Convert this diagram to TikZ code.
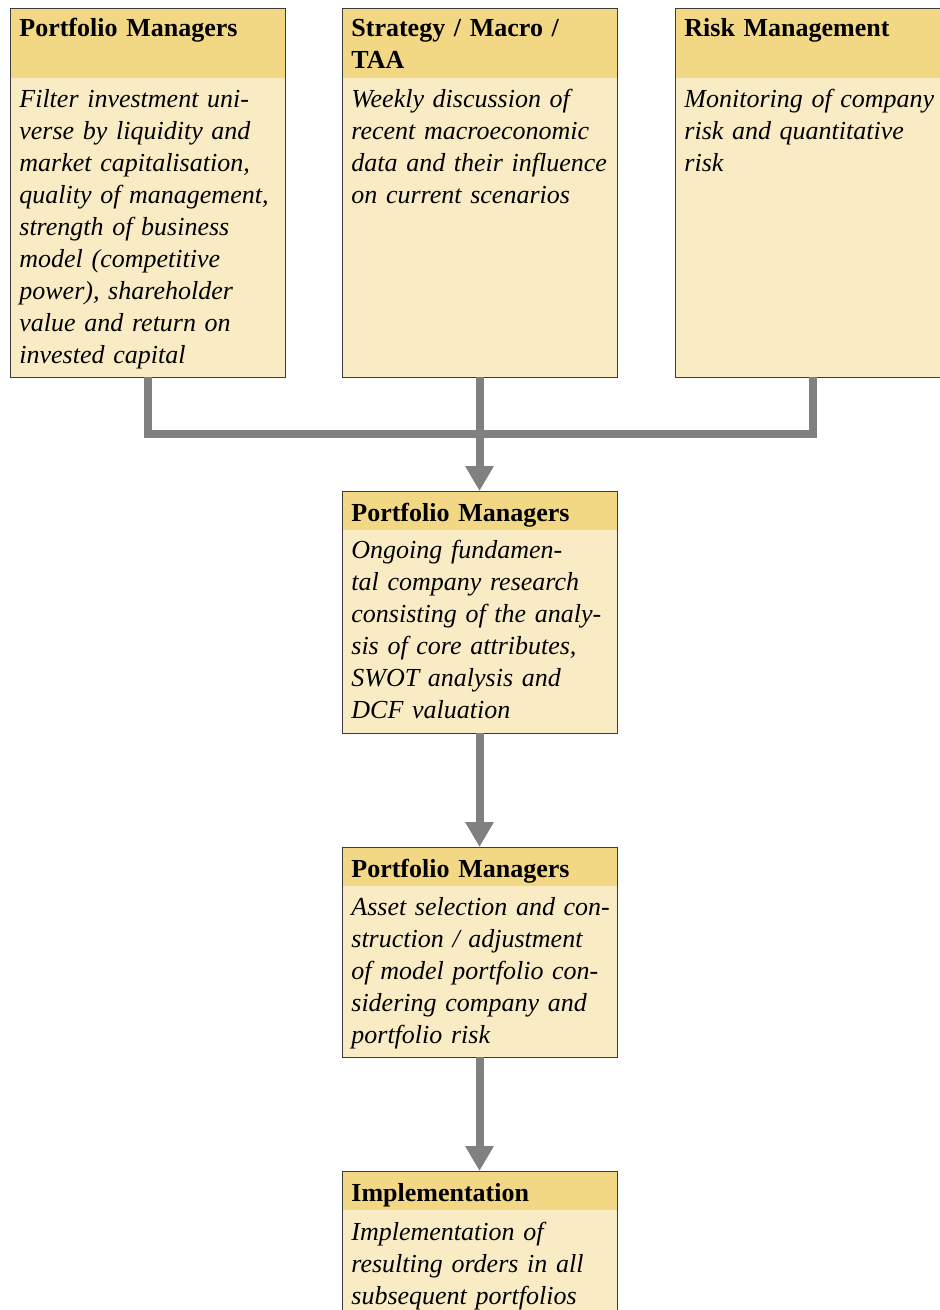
\documentclass[tikz,border=0pt]{standalone}
\usepackage{fontspec}
\setmainfont{Liberation Serif}
\usetikzlibrary{arrows.meta}
\definecolor{headfill}{RGB}{242,216,133}
\definecolor{bodyfill}{RGB}{249,236,196}
\definecolor{bordercol}{RGB}{60,60,60}
\definecolor{conncol}{RGB}{128,128,128}
\begin{document}
\begin{tikzpicture}[x=0.5pt,y=-0.5pt,
  boxbg/.style={rectangle, fill=bodyfill, inner sep=0pt, outer sep=0pt, anchor=north west, minimum width=137.5pt},
  head/.style={fill=headfill},
  frame/.style={draw=bordercol, line width=0.45pt},
  htext/.style={anchor=north west, inner sep=0pt, text width=150pt, align=left, font=\fontsize{13}{16}\selectfont\bfseries},
  btext/.style={anchor=north west, inner sep=0pt, text width=150pt, align=left, font=\fontsize{13}{16}\selectfont\itshape},
  conn/.style={draw=conncol, line width=4pt, line join=miter},
  arr/.style={conn, -{Triangle[length=12.5pt,width=13.5pt]}}]
\useasboundingbox (0,0) rectangle (939,1310);
% boxes
\node[boxbg, minimum height=184.5pt] (b1) at (10,8) {};
\node[boxbg, minimum height=184.5pt] (b2) at (342,8) {};
\node[boxbg, minimum height=184.5pt] (b3) at (675,8) {};
\node[boxbg, minimum height=121pt] (b4) at (342,491) {};
\node[boxbg, minimum height=105pt] (b5) at (342,847) {};
\node[boxbg, minimum height=75pt] (b6) at (342,1171) {};
% headers
\fill[head] (b1.north west) rectangle ++(275,70);
\fill[head] (b2.north west) rectangle ++(275,70);
\fill[head] (b3.north west) rectangle ++(275,70);
\fill[head] (b4.north west) rectangle ++(275,39);
\fill[head] (b5.north west) rectangle ++(275,39);
\fill[head] (b6.north west) rectangle ++(275,39);
% frames
\foreach \b in {b1,b2,b3,b4,b5,b6}
  \draw[frame] (\b.north west) rectangle (\b.south east);
% texts
\node[htext] (h1) at (19,14) {\strut Portfolio Managers};
\node[btext] (t1) at (19,85) {\strut Filter investment uni-\\verse by liquidity and\\market capitalisation,\\quality of management,\\strength of business\\model (competitive\\power), shareholder\\value and return on\\invested capital};
\node[htext] (h2) at (351,14) {\strut Strategy / Macro /\\TAA};
\node[btext] (t2) at (351,85) {\strut Weekly discussion of\\recent macroeconomic\\data and their influence\\on current scenarios};
\node[htext] (h3) at (684,14) {\strut Risk Management};
\node[btext] (t3) at (684,85) {\strut Monitoring of company\\risk and quantitative\\risk};
\node[htext] (h4) at (351,499) {\strut Portfolio Managers};
\node[btext] (t4) at (351,536) {\strut Ongoing fundamen-\\tal company research\\consisting of the analy-\\sis of core attributes,\\SWOT analysis and\\DCF valuation};
\node[htext] (h5) at (351,855) {\strut Portfolio Managers};
\node[btext] (t5) at (351,893) {\strut Asset selection and con-\\struction / adjustment\\of model portfolio con-\\sidering company and\\portfolio risk};
\node[htext] (h6) at (351,1179) {\strut Implementation};
\node[btext] (t6) at (351,1218) {\strut Implementation of\\resulting orders in all\\subsequent portfolios};
% connectors
\coordinate (j) at ([yshift=-28.5pt]b2.south);
\draw[conn] (b1.south) |- (j) -| (b3.south);
\draw[arr] (b2.south) -- (b4.north);
\draw[arr] (b4.south) -- (b5.north);
\draw[arr] (b5.south) -- (b6.north);
\end{tikzpicture}
\end{document}
